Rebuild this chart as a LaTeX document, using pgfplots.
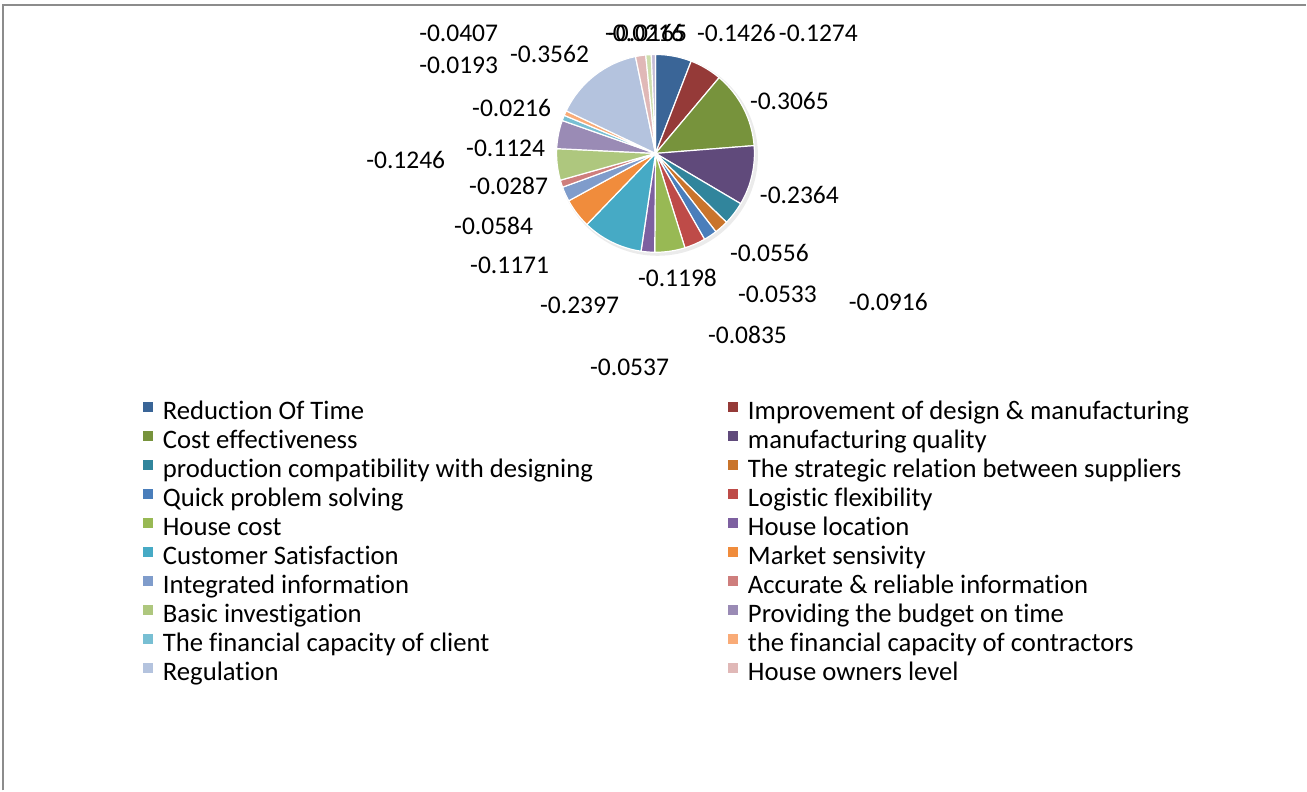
\documentclass[border=0pt]{standalone}
\usepackage{pgfplots}
\pgfplotsset{compat=1.18}
\usepackage{fontspec}
\setmainfont{Carlito}[Ligatures=NoCommon]
\definecolor{c1}{HTML}{3A6597}
\definecolor{c2}{HTML}{953A38}
\definecolor{c3}{HTML}{77933C}
\definecolor{c4}{HTML}{604A7B}
\definecolor{c5}{HTML}{31859C}
\definecolor{c6}{HTML}{C9742B}
\definecolor{c7}{HTML}{4A7EBB}
\definecolor{c8}{HTML}{BE4B48}
\definecolor{c9}{HTML}{98B954}
\definecolor{c10}{HTML}{7D60A0}
\definecolor{c11}{HTML}{46AAC5}
\definecolor{c12}{HTML}{F08C3C}
\definecolor{c13}{HTML}{7F9CCB}
\definecolor{c14}{HTML}{CE7E7D}
\definecolor{c15}{HTML}{AEC77E}
\definecolor{c16}{HTML}{9A8BB5}
\definecolor{c17}{HTML}{78BFD3}
\definecolor{c18}{HTML}{F9AB77}
\definecolor{c19}{HTML}{B4C3DE}
\definecolor{c20}{HTML}{E0B8B7}
\definecolor{c21}{HTML}{CDDDAC}
\definecolor{c22}{HTML}{C5BCD6}
\definecolor{frame}{HTML}{8C8C8C}
\newcommand\lf{\fontsize{25.5}{29}\selectfont}
\newcommand\legf{\fontsize{26.7}{29}\selectfont}
\begin{document}
\begin{tikzpicture}
\begin{axis}[
  scale only axis, width=1307pt, height=791pt,
  xmin=0, xmax=1307, ymin=0, ymax=791,
  hide axis, clip=false,
  legend columns=2,
  legend cell align=left,
  legend image code/.code={\fill[#1] (0pt,2pt) rectangle (10pt,12pt);},
  legend style={at={(0.1094,0.4943)}, anchor=north west, draw=none, fill=none,
    inner sep=0pt, outer sep=0pt, font=\legf, row sep=0pt,
    nodes={inner sep=0pt, text height=20pt, text depth=9pt},
    /tikz/every odd column/.append style={column sep=10pt},
    /tikz/every even column/.append style={column sep=135pt}},
]
% frame of the chart area
\pgfplotsextra{
  \draw[frame, line width=2pt] (axis cs:3,0) -- (axis cs:3,786) -- (axis cs:1307,786);
  \path (axis cs:0,0) rectangle (axis cs:1307,791);
  % shadow
  \fill[black!8] (axis cs:658,635.5) circle[radius=100.5pt];
  % pie slices (absolute values), clockwise from 12 o'clock
  \gdef\cum{0}
  \foreach \v/\c in {0.1426/c1,0.1274/c2,0.3065/c3,0.2364/c4,0.0916/c5,0.0556/c6,
     0.0533/c7,0.0835/c8,0.1198/c9,0.0537/c10,0.2397/c11,0.1171/c12,0.0584/c13,
     0.0287/c14,0.1246/c15,0.1124/c16,0.0216/c17,0.0193/c18,0.3562/c19,0.0407/c20,
     0.0216/c21,0.0165/c22}{
    \pgfmathsetmacro\a{90-\cum/2.4272*360}
    \pgfmathsetmacro\b{90-(\cum+\v)/2.4272*360}
    \fill[\c, draw=white, line width=1.2pt, line join=round] (axis cs:656,637.5) -- ++(\a:99pt)
       arc[start angle=\a, end angle=\b, radius=99pt] -- cycle;
    \pgfmathsetmacro\n{\cum+\v}
    \xdef\cum{\n}
  }
  % data labels
  \foreach \x/\y/\t in {459/758/-0.0407, 459/726/-0.0193, 550/737/-0.3562,
     512/683/-0.0216, 506/643/-0.1124, 406/631/-0.1246, 509/605/-0.0287,
     494/565/-0.0584, 510/525/-0.1171, 580/485/-0.2397, 678/513/-0.1198,
     630/423/-0.0537, 748/456/-0.0835, 889/489/-0.0916, 778/496/-0.0533,
     770/538/-0.0556, 800/596/-0.2364, 790/690/-0.3065, 819/758/-0.1274,
     737/758/-0.1426, 645/758/-0.0216, 648/758/-0.0165}{
    \node[font=\lf, inner sep=0pt] at (axis cs:\x,\y) {\t};
  }
}
\addlegendimage{fill=c1, draw=none}\addlegendentry{Reduction Of Time}
\addlegendimage{fill=c2, draw=none}\addlegendentry{Improvement of design \& manufacturing}
\addlegendimage{fill=c3, draw=none}\addlegendentry{Cost effectiveness}
\addlegendimage{fill=c4, draw=none}\addlegendentry{manufacturing quality}
\addlegendimage{fill=c5, draw=none}\addlegendentry{production compatibility with designing}
\addlegendimage{fill=c6, draw=none}\addlegendentry{The strategic relation between suppliers}
\addlegendimage{fill=c7, draw=none}\addlegendentry{Quick problem solving}
\addlegendimage{fill=c8, draw=none}\addlegendentry{Logistic flexibility}
\addlegendimage{fill=c9, draw=none}\addlegendentry{House cost}
\addlegendimage{fill=c10, draw=none}\addlegendentry{House location}
\addlegendimage{fill=c11, draw=none}\addlegendentry{Customer Satisfaction}
\addlegendimage{fill=c12, draw=none}\addlegendentry{Market sensivity}
\addlegendimage{fill=c13, draw=none}\addlegendentry{Integrated information}
\addlegendimage{fill=c14, draw=none}\addlegendentry{Accurate \& reliable information}
\addlegendimage{fill=c15, draw=none}\addlegendentry{Basic investigation}
\addlegendimage{fill=c16, draw=none}\addlegendentry{Providing the budget on time}
\addlegendimage{fill=c17, draw=none}\addlegendentry{The financial capacity of client}
\addlegendimage{fill=c18, draw=none}\addlegendentry{the financial capacity of contractors}
\addlegendimage{fill=c19, draw=none}\addlegendentry{Regulation}
\addlegendimage{fill=c20, draw=none}\addlegendentry{House owners level}
\end{axis}
\end{tikzpicture}
\end{document}
